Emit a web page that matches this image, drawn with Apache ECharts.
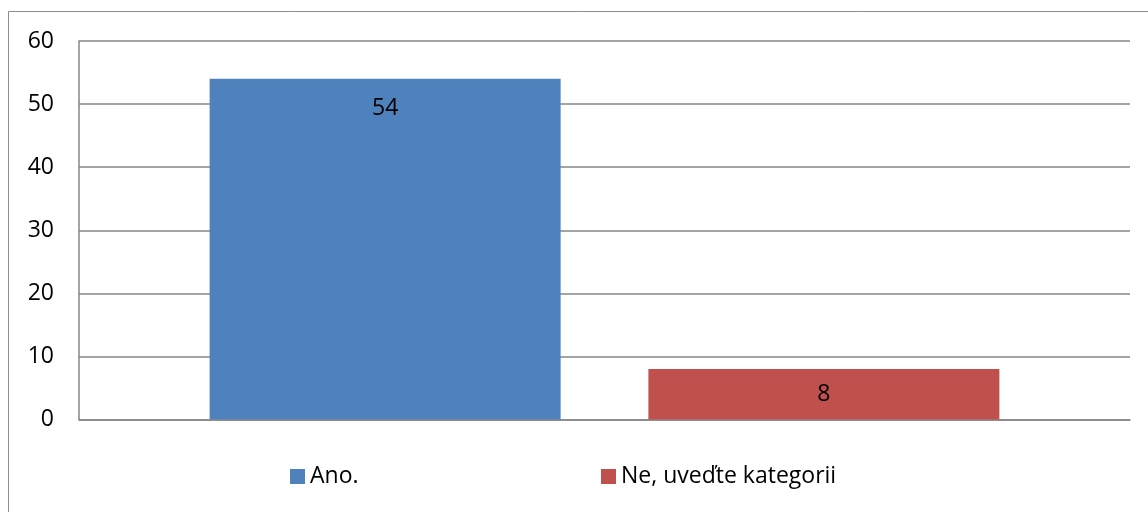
<!DOCTYPE html>
<html>
<head>
<meta charset="utf-8">
<script src="https://cdn.jsdelivr.net/npm/echarts@6/dist/echarts.min.js"></script>
<style>
html,body{margin:0;padding:0;background:#fff;}
#chart{width:1148px;height:512px;}
</style>
</head>
<body>
<div id="chart"></div>
<script>
const categories = [''];
const seriesNames = ['Ano.', 'Ne, uveďte kategorii'];
const seriesValues = [[54], [8]];
const seriesColors = ['#4F81BD', '#C0504D'];
const yTicks = { min: 0, max: 60, interval: 10 };

const FONT = 'Open Sans';
const FS = 23;
const labelDistances = [18, 14];
const legendLefts = [290, 601];
const chart = echarts.init(document.getElementById('chart'), null, { renderer: 'canvas' });

const series = seriesNames.map((name, i) => ({
  name: name,
  type: 'bar',
  data: seriesValues[i],
  barWidth: 351,
  barGap: '25%',
  itemStyle: { color: seriesColors[i] },
  label: {
    show: true,
    position: 'insideTop',
    distance: labelDistances[i],
    color: '#000',
    fontFamily: FONT,
    fontSize: FS
  }
}));

chart.setOption({
  animation: false,
  backgroundColor: '#fff',
  textStyle: { fontFamily: FONT },
  graphic: [{
    type: 'rect',
    shape: { x: 8.5, y: 11.5, width: 1200, height: 600 },
    style: { fill: 'none', stroke: '#8c8c8c', lineWidth: 1 },
    silent: true,
    z: -1
  }],
  grid: { left: 79, right: 18, top: 41, bottom: 92.5, containLabel: false },
  legend: seriesNames.map((name, i) => ({
    data: [name],
    left: legendLefts[i], top: 465,
    padding: 0,
    itemWidth: 15, itemHeight: 15, icon: 'rect',
    textStyle: { fontFamily: FONT, fontSize: FS, color: '#000' }
  })),
  xAxis: {
    type: 'category',
    data: categories,
    axisLine: { show: true, lineStyle: { color: '#868686', width: 1.5 } },
    axisTick: { show: false },
    axisLabel: { show: false },
    splitLine: { show: false }
  },
  yAxis: {
    type: 'value',
    min: yTicks.min, max: yTicks.max, interval: yTicks.interval,
    axisLine: { show: true, lineStyle: { color: '#868686', width: 1.5 } },
    axisTick: { show: false },
    axisLabel: { color: '#000', fontFamily: FONT, fontSize: FS, margin: 25 },
    splitLine: { show: true, lineStyle: { color: '#868686', width: 1.5 } }
  },
  series: series
});
</script>
</body>
</html>
